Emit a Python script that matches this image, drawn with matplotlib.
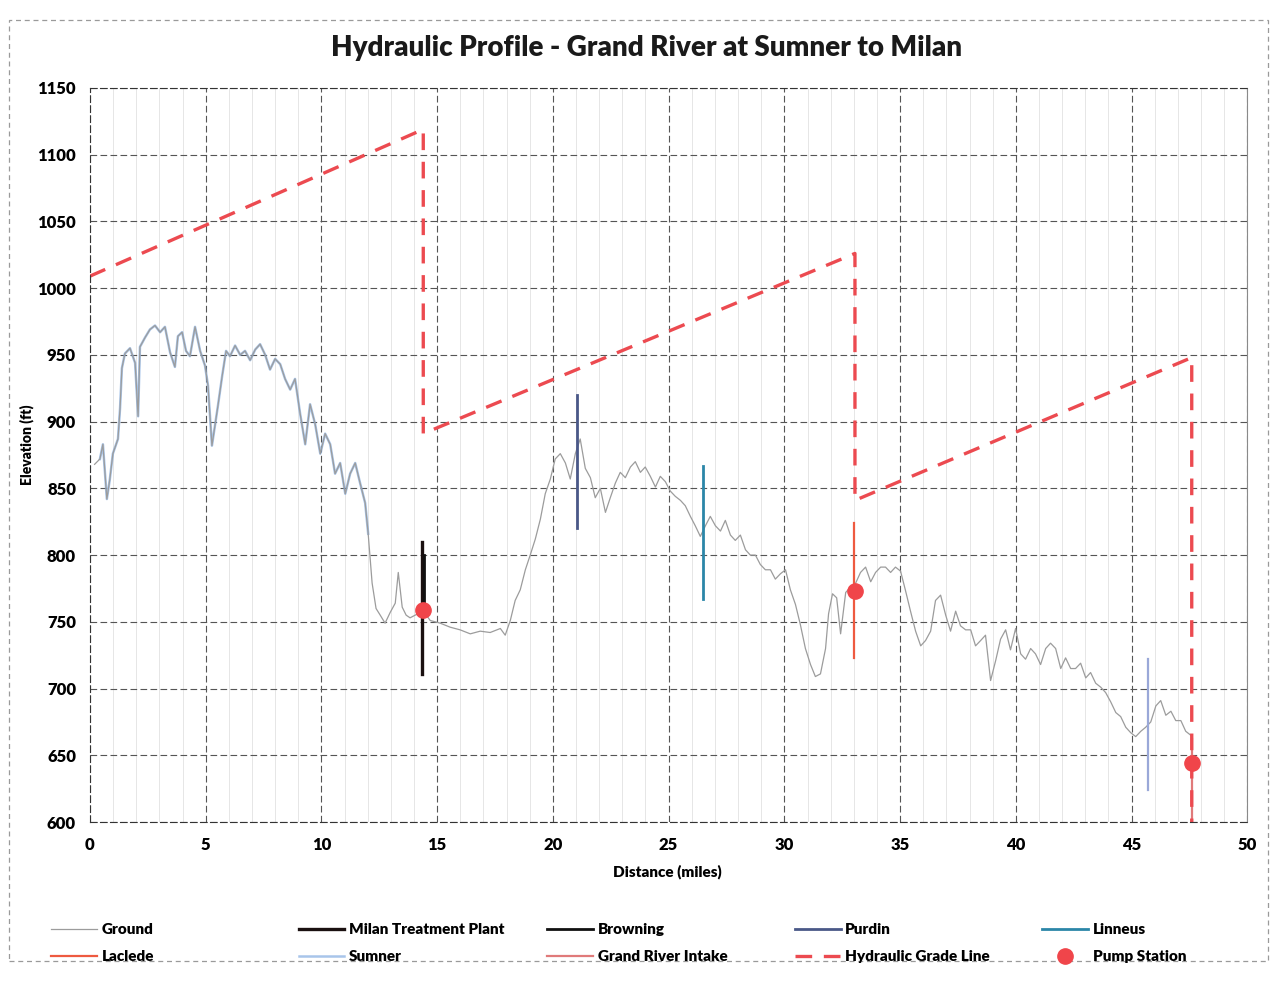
import matplotlib
matplotlib.use("Agg")
import matplotlib.pyplot as plt
from matplotlib.patches import Rectangle

plt.rcParams['font.family'] = ['Lato', 'DejaVu Sans']

# Ground profile along the route (distance in miles, elevation in ft)
ground_mi = [0.20, 0.43, 0.56, 0.73, 0.86, 0.99, 1.21, 1.30, 1.38, 1.51, 1.73, 1.95, 2.08, 2.16,
             2.38, 2.59, 2.81, 3.03, 3.24, 3.46, 3.67, 3.80, 3.98, 4.15, 4.32, 4.54, 4.76, 4.97,
             5.10, 5.27, 5.40, 5.53, 5.71, 5.88, 6.05, 6.27, 6.49, 6.70, 6.92, 7.14, 7.35, 7.57,
             7.78, 8.00, 8.22, 8.43, 8.65, 8.86, 9.08, 9.30, 9.51, 9.73, 9.95, 10.16, 10.38,
             10.59, 10.81, 11.03, 11.24, 11.46, 11.67, 11.89, 12.02, 12.19, 12.36, 12.54, 12.75,
             12.97, 13.19, 13.32, 13.49, 13.66, 13.83, 14.05, 14.27, 14.49, 14.70, 15.13, 15.56,
             15.99, 16.43, 16.86, 17.29, 17.73, 17.94, 18.16, 18.37, 18.59, 18.81, 19.02, 19.24,
             19.46, 19.67, 19.89, 20.10, 20.32, 20.54, 20.75, 20.97, 21.18, 21.40, 21.62, 21.83,
             22.05, 22.27, 22.48, 22.70, 22.91, 23.13, 23.35, 23.56, 23.78, 23.99, 24.21, 24.43,
             24.64, 24.86, 25.07, 25.29, 25.51, 25.72, 25.94, 26.15, 26.37, 26.59, 26.80, 27.02,
             27.24, 27.45, 27.67, 27.88, 28.10, 28.32, 28.53, 28.75, 28.96, 29.18, 29.40, 29.61,
             29.83, 30.05, 30.26, 30.48, 30.69, 30.91, 31.13, 31.34, 31.56, 31.78, 31.91, 32.08,
             32.26, 32.43, 32.65, 32.86, 33.08, 33.29, 33.51, 33.73, 33.94, 34.16, 34.37, 34.59,
             34.80, 35.02, 35.24, 35.45, 35.67, 35.89, 36.10, 36.32, 36.53, 36.75, 36.97, 37.18,
             37.40, 37.61, 37.83, 38.05, 38.26, 38.48, 38.69, 38.91, 39.13, 39.34, 39.56, 39.77,
             39.99, 40.21, 40.42, 40.64, 40.85, 41.07, 41.29, 41.50, 41.72, 41.94, 42.15, 42.37,
             42.58, 42.80, 43.02, 43.23, 43.45, 43.67, 43.88, 44.10, 44.32, 44.53, 44.75, 44.96,
             45.18, 45.40, 45.61, 45.83, 46.05, 46.26, 46.48, 46.70, 46.91, 47.13, 47.34, 47.56]
ground_ft = [868, 872, 883, 842, 857, 876, 887, 910, 940, 951, 955, 944, 904, 956,
             963, 969, 972, 967, 971, 952, 941, 964, 967, 953, 949, 971, 953, 942,
             927, 882, 897, 912, 934, 953, 949, 957, 950, 953, 946, 954, 958, 950,
             939, 947, 943, 932, 924, 932, 906, 883, 913, 898, 876, 891, 883,
             861, 869, 846, 861, 869, 854, 839, 816, 779, 760, 755, 749,
             757, 764, 787, 761, 755, 753, 755, 757, 756, 751, 749, 746,
             744, 741, 743, 742, 745, 740, 751, 766, 774, 789, 800, 812,
             827, 846, 857, 872, 876, 869, 857, 876, 887, 865, 858, 843,
             850, 832, 843, 854, 862, 858, 866, 870, 862, 866, 859, 851,
             859, 855, 848, 844, 841, 837, 829, 822, 814, 822, 829, 822,
             818, 826, 815, 811, 815, 804, 800, 800, 793, 789, 789, 782,
             786, 789, 774, 763, 748, 730, 718, 709, 711, 730, 756, 771,
             768, 741, 772, 776, 779, 787, 791, 780, 787, 791, 791, 787,
             791, 788, 773, 758, 743, 732, 736, 743, 766, 770, 755, 743,
             758, 747, 744, 744, 732, 736, 740, 706, 721, 737, 744, 729,
             745, 726, 722, 730, 726, 718, 730, 734, 730, 715, 723, 715,
             715, 719, 708, 712, 704, 701, 697, 690, 682, 679, 671, 667,
             664, 668, 671, 675, 687, 691, 680, 683, 676, 676, 668, 665]

# Stretch of the profile shown for the Sumner reach
sumner_from_mi, sumner_to_mi = 0.4, 12.1

# Hydraulic grade line between pump stations
hgl_mi = [0.0, 14.4, 14.4, 33.05, 33.05, 47.6, 47.6]
hgl_ft = [1009, 1119, 891, 1026, 841, 948, 600]

# Pump stations
pump_mi = [14.4, 33.05, 47.6]
pump_ft = [759, 773, 644]

# Facility / town elevation markers
milan_mi, milan_ft = [14.35, 14.35], [711, 810]
browning_mi, browning_ft = [14.45, 14.45], [760, 800]
purdin_mi, purdin_ft = [21.05, 21.05], [820, 920]
linneus_mi, linneus_ft = [26.5, 26.5], [767, 867]
laclede_mi, laclede_ft = [33.0, 33.0], [723, 824]
intake_mi, intake_ft = [47.6, 47.6], [600, 662]
crossing_mi, crossing_ft = [45.7, 45.7], [624, 722]

fig = plt.figure(figsize=(12.76, 9.86), dpi=100)
fig.patches.append(Rectangle((0.007, 0.025), 0.987, 0.955, transform=fig.transFigure,
                             fill=False, edgecolor='#9a9a9a', linewidth=0.9,
                             linestyle=(0, (4, 3))))

ax = fig.add_axes([0.0705, 0.1663, 0.907, 0.7445])
ax.set_xlim(0, 50)
ax.set_ylim(600, 1150)
ax.set_xticks(range(0, 51, 5))
ax.set_yticks(range(600, 1151, 50))
ax.set_xticks(range(0, 51, 1), minor=True)
ax.grid(which='minor', axis='x', color='#e6e6e6', linewidth=0.7)
ax.grid(which='major', color='#555555', linestyle=(0, (6, 3)), linewidth=0.8)
ax.set_axisbelow(True)
for side in ['left', 'top', 'bottom']:
    ax.spines[side].set_linestyle((0, (6, 3)))
    ax.spines[side].set_color('#333333')
ax.spines['right'].set_color('#8a8a8a')
ax.tick_params(which='both', length=0)
ax.tick_params(axis='x', pad=11, labelsize=12)
ax.tick_params(axis='y', pad=10, labelsize=12)
for lab in ax.get_xticklabels() + ax.get_yticklabels():
    lab.set_fontweight('heavy')

sum_mi = [m for m in ground_mi if sumner_from_mi <= m <= sumner_to_mi]
sum_ft = [f for m, f in zip(ground_mi, ground_ft) if sumner_from_mi <= m <= sumner_to_mi]

h_sumner, = ax.plot(sum_mi, sum_ft, color='#6f9fdc', linewidth=1.8, alpha=0.6, label='Sumner')
h_ground, = ax.plot(ground_mi, ground_ft, color='#9c9c9c', linewidth=0.9, label='Ground')
h_milan, = ax.plot(milan_mi, milan_ft, color='#1a1010', linewidth=2.4, label='Milan Treatment Plant')
h_brown, = ax.plot(browning_mi, browning_ft, color='#111111', linewidth=2.0, label='Browning')
h_purdin, = ax.plot(purdin_mi, purdin_ft, color='#4a5888', linewidth=2.0, label='Purdin')
h_linneus, = ax.plot(linneus_mi, linneus_ft, color='#2b86a8', linewidth=2.0, label='Linneus')
ax.plot(crossing_mi, crossing_ft, color='#9aa8d8', linewidth=1.6)
h_intake, = ax.plot(intake_mi, intake_ft, color='#e07a7a', linewidth=1.6, label='Grand River Intake')
h_laclede, = ax.plot(laclede_mi, laclede_ft, color='#ee5a40', linewidth=1.6, label='Laclede')
h_hgl, = ax.plot(hgl_mi, hgl_ft, color='#ec4a50', linewidth=2.4, dashes=(5, 3.5),
                 label='Hydraulic Grade Line')
h_pump, = ax.plot(pump_mi, pump_ft, linestyle='none', marker='o', markersize=11,
                  color='#f0454a', label='Pump Station')

fig.text(0.507, 0.951, 'Hydraulic Profile - Grand River at Sumner to Milan',
         ha='center', va='center', fontsize=20, fontweight='heavy', color='#1a1a1a')
fig.text(0.523, 0.116, 'Distance (miles)', ha='center', va='center',
         fontsize=11, fontweight='heavy')
fig.text(0.021, 0.549, 'Elevation (ft)', ha='center', va='center', rotation=90,
         fontsize=10, fontweight='heavy')

columns = [(0.040, [h_ground, h_laclede]),
           (0.234, [h_milan, h_sumner]),
           (0.429, [h_brown, h_intake]),
           (0.623, [h_purdin, h_hgl]),
           (0.817, [h_linneus, h_pump])]
for x0, hs in columns:
    leg = fig.legend(handles=hs, labels=[h.get_label() for h in hs], loc='upper left',
                     bbox_to_anchor=(x0, 0.064), bbox_transform=fig.transFigure,
                     frameon=False, fontsize=11,
                     handlelength=3.0, handletextpad=0.3, labelspacing=0.95,
                     borderpad=0, borderaxespad=0)
    for t in leg.get_texts():
        t.set_fontweight('heavy')

fig.savefig('out.png', dpi=100)
